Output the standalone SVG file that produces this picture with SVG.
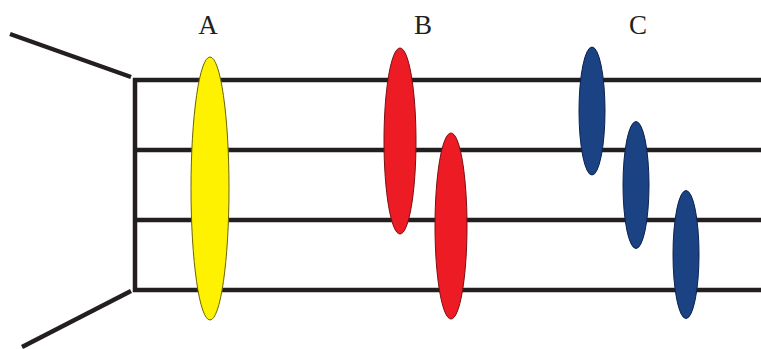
<svg xmlns="http://www.w3.org/2000/svg" width="761" height="349" viewBox="0 0 761 349">
<style>
.ln{stroke:#231f20;stroke-width:4.5;fill:none}
.lbl{font-family:"Liberation Serif",serif;font-size:27px;fill:#231f20;text-anchor:middle}
.y{fill:#fff200;stroke:#6b6400;stroke-width:1}
.r{fill:#ed1c24;stroke:#7a0e12;stroke-width:1}
.b{fill:#1b4383;stroke:#0c2050;stroke-width:1}
</style>
<rect width="761" height="349" fill="#fff"/>
<g id="connectors">
<line class="ln" x1="10" y1="34" x2="131" y2="77"/>
<line class="ln" x1="22" y1="347" x2="131" y2="291"/>
<polyline class="ln" points="761,80 135,80 135,290 761,290"/>
<line class="ln" x1="135" y1="150" x2="761" y2="150"/>
<line class="ln" x1="135" y1="220" x2="761" y2="220"/>
</g>
<g id="A"><ellipse class="y" cx="210" cy="188.5" rx="19" ry="131.5"/><text class="lbl" x="208" y="34">A</text></g>
<g id="B">
<ellipse class="r" cx="400" cy="141" rx="16" ry="93"/>
<ellipse class="r" cx="451" cy="226" rx="16" ry="93"/>
<text class="lbl" x="423" y="34">B</text></g>
<g id="C">
<ellipse class="b" cx="592" cy="111" rx="13" ry="64"/>
<ellipse class="b" cx="636" cy="185" rx="13" ry="63.5"/>
<ellipse class="b" cx="686" cy="254.5" rx="13" ry="64"/>
<text class="lbl" x="638" y="34">C</text></g>
</svg>
